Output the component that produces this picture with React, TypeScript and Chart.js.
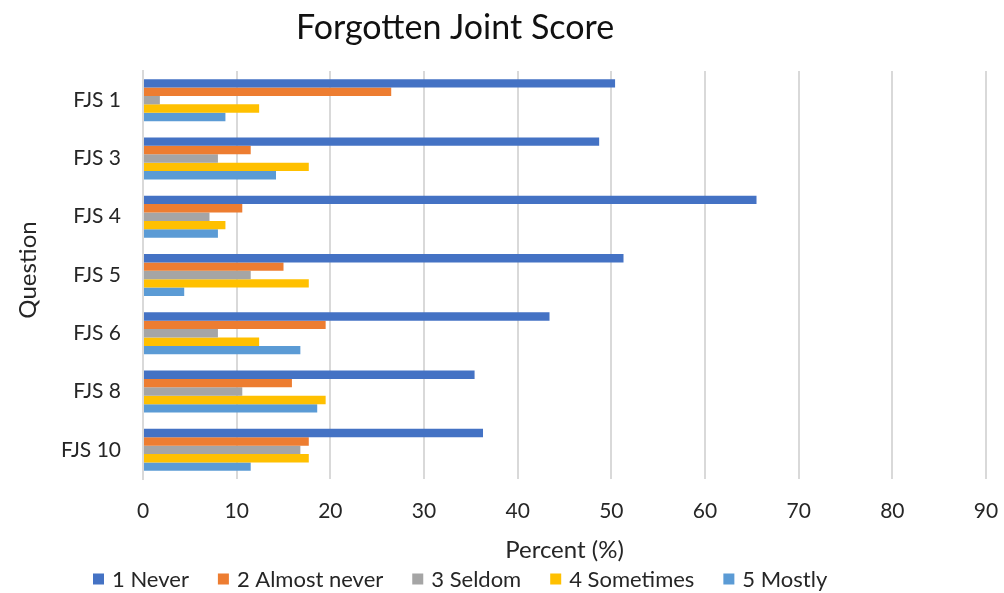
import React, { useEffect, useRef } from "react";
import { Chart, registerables } from "chart.js";

Chart.register(...registerables);

const categories = ["FJS 1", "FJS 3", "FJS 4", "FJS 5", "FJS 6", "FJS 8", "FJS 10"];
const seriesNames = ["1 Never", "2 Almost never", "3 Seldom", "4 Sometimes", "5 Mostly"];
const never = [50.4, 48.7, 65.5, 51.3, 43.4, 35.4, 36.3];
const almostNever = [26.5, 11.5, 10.6, 15.0, 19.5, 15.9, 17.7];
const seldom = [1.8, 8.0, 7.1, 11.5, 8.0, 10.6, 16.8];
const sometimes = [12.4, 17.7, 8.8, 17.7, 12.4, 19.5, 17.7];
const mostly = [8.8, 14.2, 8.0, 4.4, 16.8, 18.6, 11.5];
const seriesColors = ["#4472C4", "#ED7D31", "#A5A5A5", "#FFC000", "#5B9BD5"];
const xMin = 0;
const xMax = 90;
const xStep = 10;
const chartTitle = "Forgotten Joint Score";
const xTitle = "Percent (%)";
const yTitle = "Question";

const FONT = "Lato, 'Open Sans', sans-serif";
const TEXT = "#262626";

const textPlugin = {
  id: "excelTexts",
  afterDraw(chart: any) {
    const ctx = chart.ctx as CanvasRenderingContext2D;
    const area = chart.chartArea;
    ctx.save();
    // Title
    ctx.fillStyle = "#111111";
    ctx.font = `34px ${FONT}`;
    ctx.textAlign = "center";
    ctx.textBaseline = "middle";
    ctx.fillText(chartTitle, 455, 28);
    // X axis title
    ctx.fillStyle = TEXT;
    ctx.font = `24px ${FONT}`;
    ctx.fillText(xTitle, (area.left + area.right) / 2, 550);
    // Y axis title
    ctx.save();
    ctx.translate(28, 270);
    ctx.rotate(-Math.PI / 2);
    ctx.fillText(yTitle, 0, 0);
    ctx.restore();
    // Legend
    ctx.font = `22px ${FONT}`;
    const box = 11;
    const gap = 8;
    const spacing = 29;
    let x = 93;
    const y = 579;
    ctx.textAlign = "left";
    seriesNames.forEach((n, i) => {
      const w = ctx.measureText(n).width;
      ctx.fillStyle = seriesColors[i];
      ctx.fillRect(x, y - box / 2, box, box);
      ctx.fillStyle = TEXT;
      ctx.fillText(n, x + box + gap, y + 1);
      x += box + gap + w + spacing;
    });
    ctx.restore();
  },
};

export default function App() {
  const ref = useRef<HTMLCanvasElement | null>(null);

  useEffect(() => {
    document.body.style.margin = "0";
    const canvas = ref.current;
    if (!canvas) return;
    const seriesData = [never, almostNever, seldom, sometimes, mostly];
    const xTicks: number[] = [];
    for (let v = xMin; v <= xMax; v += xStep) xTicks.push(v);

    const chart = new Chart(canvas, {
      type: "bar",
      data: {
        labels: categories,
        datasets: seriesNames.map((name, i) => ({
          label: name,
          data: seriesData[i],
          backgroundColor: seriesColors[i],
          borderWidth: 0,
          barPercentage: 1,
          categoryPercentage: 0.72,
        })),
      },
      options: {
        indexAxis: "y",
        responsive: false,
        animation: false,
        devicePixelRatio: 1,
        layout: { padding: { top: 71, right: 18, bottom: 0, left: 0 } },
        plugins: {
          legend: { display: false },
          title: { display: false },
          tooltip: { enabled: false },
        },
        scales: {
          x: {
            min: xMin,
            max: xMax,
            afterBuildTicks(scale: any) {
              scale.ticks = xTicks.map((v) => ({ value: v }));
            },
            afterFit(scale: any) {
              scale.height = 114;
              scale.paddingLeft = 0;
              scale.paddingRight = 0;
            },
            ticks: {
              color: TEXT,
              font: { family: FONT, size: 21 },
              padding: 20,
            },
            grid: {
              color: "#d9d9d9",
              lineWidth: 2,
              drawTicks: false,
            },
            border: { display: false },
          },
          y: {
            afterFit(scale: any) {
              scale.width = 143;
            },
            ticks: {
              color: TEXT,
              font: { family: FONT, size: 21 },
              padding: 22,
            },
            grid: { display: false, drawTicks: false },
            border: { display: true, color: "#d9d9d9", width: 2 },
          },
        },
      },
      plugins: [textPlugin],
    } as any);

    return () => chart.destroy();
  }, []);

  return (
    <div style={{ width: 1004, height: 593, background: "#ffffff" }}>
      <canvas ref={ref} width={1004} height={593} style={{ display: "block" }} />
    </div>
  );
}
